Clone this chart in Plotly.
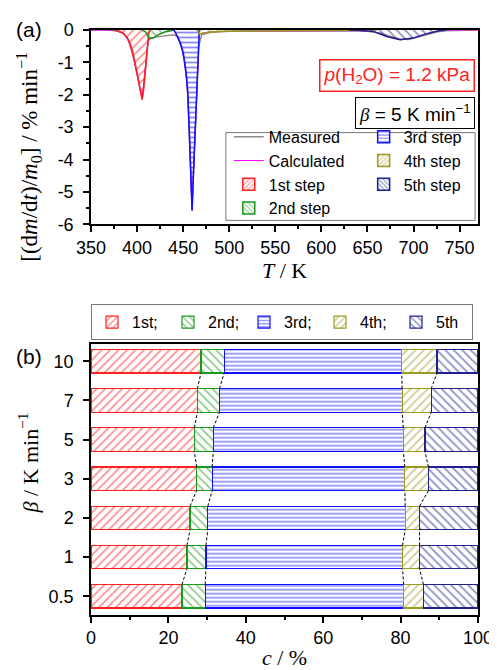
import plotly.graph_objects as go

# ---------------- data: panel (a) ----------------
T_step1 = [375, 380, 385, 389, 392, 394.5, 397, 400, 402, 404, 405.5, 407, 408.5, 410, 411, 412.5, 414]
v_step1 = [0, -0.03, -0.1, -0.23, -0.4, -0.64, -0.95, -1.35, -1.65, -1.95, -2.14, -1.85, -1.35, -0.85, -0.44, -0.12, 0]

T_step2 = [405, 409, 412, 414, 417, 421, 425, 430, 435, 440]
v_step2 = [0, -0.05, -0.2, -0.27, -0.25, -0.18, -0.12, -0.06, -0.02, 0]

T_step3 = [440, 442, 446, 449, 451, 453, 455, 456.5, 457.6, 458.7, 459.7, 461, 462.5, 464, 465.5, 467.5]
v_step3 = [0, -0.1, -0.35, -0.6, -0.9, -1.3, -1.9, -2.9, -3.9, -4.9, -5.57, -4.6, -3.5, -2.5, -1.4, 0]

T_step4 = [465, 468, 472, 480, 500, 550, 600, 640, 660]
v_step4 = [0, -0.12, -0.1, -0.06, -0.04, -0.03, -0.02, -0.01, 0]

T_step5 = [630, 640, 657, 671, 685.5, 699.5, 713.7, 727.8, 735]
v_step5 = [0, -0.01, -0.05, -0.2, -0.3, -0.25, -0.12, -0.02, 0]

T_meas = [350, 360, 370, 378, 385, 390, 395, 400, 403, 405.5, 408, 410, 412, 414, 417, 420, 425, 430,
          435, 440, 444, 448, 451, 454, 456.5, 458, 459.7, 461, 463, 465, 467, 470, 475, 480, 490, 500,
          550, 600, 630, 650, 665, 675, 685, 695, 705, 715, 725, 735, 750, 770]
v_meas = [0, 0, -0.01, -0.03, -0.1, -0.27, -0.6, -1.3, -1.75, -2.14, -1.6, -0.9, -0.35, -0.25, -0.25,
          -0.22, -0.2, -0.18, -0.16, -0.15, -0.2, -0.45, -0.8, -1.5, -2.9, -4.1, -5.55, -4.5, -3.1, -1.7,
          -0.5, -0.15, -0.1, -0.07, -0.05, -0.04, -0.03, -0.02, -0.02, -0.04, -0.1, -0.2, -0.28, -0.29,
          -0.22, -0.14, -0.06, -0.02, -0.01, 0]

T_calc = [350, 375, 385, 390, 395, 400, 403, 405.5, 408, 410, 412, 414, 417, 421, 425, 430, 435, 440,
          444, 448, 451, 454, 456.5, 458, 459.7, 461, 463, 465, 467.5, 470, 480, 500, 550, 600, 640,
          657, 671, 685.5, 699.5, 713.7, 727.8, 735, 770]
v_calc = [0, 0, -0.1, -0.3, -0.7, -1.35, -1.8, -2.14, -1.4, -0.9, -0.32, -0.27, -0.25, -0.18, -0.12,
          -0.06, -0.02, -0.02, -0.2, -0.5, -0.9, -1.6, -2.9, -4.3, -5.57, -4.6, -3.2, -1.8, -0.12, -0.1,
          -0.06, -0.04, -0.03, -0.02, -0.02, -0.05, -0.2, -0.3, -0.25, -0.12, -0.02, 0, 0]

step_names = ["1st step", "2nd step", "3rd step", "4th step", "5th step"]
y_ticks_a = [0, -1, -2, -3, -4, -5, -6]
y_ticktext_a = ["0", "-1", "-2", "-3", "-4", "-5", "-6"]

# ---------------- data: panel (b) ----------------
beta_labels = ["0.5", "1", "2", "3", "5", "7", "10"]
c_1st = [23.5, 24.8, 25.6, 27.3, 26.7, 27.5, 28.4]
c_2nd = [6.0, 4.9, 4.6, 4.0, 4.9, 5.7, 6.0]
c_3rd = [51.3, 50.8, 51.0, 49.8, 49.1, 47.2, 45.9]
c_4th = [5.1, 4.4, 3.7, 6.1, 5.6, 7.5, 9.1]
c_5th = [14.1, 15.1, 15.1, 12.8, 13.7, 12.1, 10.6]
bar_names = ["1st;", "2nd;", "3rd;", "4th;", "5th"]

# ---------------- styles ----------------
colors = ["#ff2020", "#1a9a1a", "#1010ff", "#9a9a20", "#202090"]
shapes_p = ["/", "\\", "-", "/", "\\"]
SANS = "Liberation Sans"
SERIF = "Liberation Serif"

W, H = 497, 670
ML, MR, MT, MB = 83, 18, 20, 57
PW, PH = W - ML - MR, H - MT - MB


def px2x(px):
    return (px - ML) / PW


def px2y(py):
    return 1 - (py - MT) / PH


fig = go.Figure()

# panel (a): measured & calculated (drawn below the steps)
fig.add_trace(go.Scatter(x=T_meas, y=v_meas, mode="lines", name="Measured",
                         line=dict(color="#8c8c8c", width=1.5), legend="legend", legendrank=1,
                         xaxis="x", yaxis="y"))
fig.add_trace(go.Scatter(x=T_calc, y=v_calc, mode="lines", name="Calculated",
                         line=dict(color="#ff00ff", width=1), legend="legend", legendrank=2,
                         xaxis="x", yaxis="y"))

steps_T = [T_step1, T_step2, T_step3, T_step4, T_step5]
steps_v = [v_step1, v_step2, v_step3, v_step4, v_step5]
for i in range(5):
    fig.add_trace(go.Scatter(
        x=steps_T[i], y=steps_v[i], mode="lines", fill="tozeroy",
        line=dict(color=colors[i], width=1.5), fillcolor="rgba(0,0,0,0)",
        fillpattern=dict(shape=shapes_p[i], fgcolor=colors[i], bgcolor="rgba(255,255,255,0)",
                         size=5 if i == 2 else 6, solidity=0.35 if i == 2 else 0.3),
        showlegend=False, xaxis="x", yaxis="y"))

# legend-only entries for steps in panel (a)
for i in range(5):
    fig.add_trace(go.Bar(
        x=[None], y=[None], name=step_names[i], orientation="h",
        marker=dict(color="white", line=dict(color=colors[i], width=1.5),
                    pattern=dict(shape=shapes_p[i], fgcolor=colors[i], bgcolor="white",
                                 size=4, solidity=0.35)),
        legend="legend" if i < 2 else "legend2", legendrank=3 + i,
        xaxis="x", yaxis="y"))

# panel (b): stacked bars
c_all = [c_1st, c_2nd, c_3rd, c_4th, c_5th]
ypos = list(range(len(beta_labels)))
for i in range(5):
    fig.add_trace(go.Bar(
        x=c_all[i], y=ypos, orientation="h", name=bar_names[i], width=0.6,
        marker=dict(color="white", line=dict(color=colors[i], width=1.2),
                    pattern=dict(shape=shapes_p[i], fgcolor=colors[i], bgcolor="white",
                                 size=4 if i == 2 else 6, solidity=0.4 if i == 2 else 0.3)),
        legend="legend3", legendrank=i + 1, xaxis="x2", yaxis="y2"))

# dashed connectors between boundaries
cum = [[0] * len(ypos)]
for i in range(4):
    cum.append([cum[-1][k] + c_all[i][k] for k in range(len(ypos))])
for b in range(1, 5):
    xs, ys = [], []
    for k in range(len(ypos) - 1):
        xs += [cum[b][k], cum[b][k + 1], None]
        ys += [ypos[k] + 0.3, ypos[k + 1] - 0.3, None]
    fig.add_trace(go.Scatter(x=xs, y=ys, mode="lines", showlegend=False,
                             line=dict(color="black", width=1, dash="3px,2px"),
                             xaxis="x2", yaxis="y2"))

axis_common = dict(showline=True, linecolor="black", linewidth=1.5, mirror=True,
                   ticks="outside", ticklen=6, tickwidth=1.5, tickcolor="black",
                   showgrid=False, zeroline=False,
                   tickfont=dict(family=SANS, size=18, color="black"))

leg_common = dict(bgcolor="rgba(0,0,0,0)", borderwidth=0, font=dict(family=SANS, size=16),
                  tracegroupgap=0, itemwidth=30, traceorder="normal",
                  xanchor="left", yanchor="top")

fig.update_layout(
    width=W, height=H, margin=dict(l=ML, r=MR, t=MT, b=MB),
    paper_bgcolor="white", plot_bgcolor="white", barmode="stack", bargap=0.4,
    font=dict(family=SANS, size=16, color="black"),
    xaxis=dict(domain=[0, 1], anchor="y", range=[350, 770], dtick=50, tick0=350,
               minor=dict(ticks="outside", ticklen=3, tickwidth=1.5, dtick=25, tick0=350, tickcolor="black"),
               title=dict(text="<i>T</i> / K", font=dict(family=SERIF, size=22), standoff=4),
               **axis_common),
    yaxis=dict(domain=[px2y(217), 1], anchor="x", range=[-6, 0],
               tickvals=y_ticks_a, ticktext=y_ticktext_a, ticklabelstandoff=6,
               minor=dict(ticks="outside", ticklen=3, tickwidth=1.5, dtick=0.5, tickcolor="black"),
               **axis_common),
    xaxis2=dict(domain=[0, 1], anchor="y2", range=[0, 100], dtick=20,
                minor=dict(ticks="outside", ticklen=3, tickwidth=1.5, dtick=10, tickcolor="black"),
                title=dict(text="<i>c</i> / %", font=dict(family=SERIF, size=22), standoff=2),
                **axis_common),
    yaxis2=dict(domain=[0, px2y(338)], anchor="x2", range=[-0.48, 6.45],
                tickvals=ypos, ticktext=beta_labels, ticklabelstandoff=6,
                **axis_common),
    legend=dict(x=px2x(224), y=px2y(111), **leg_common),
    legend2=dict(x=px2x(362), y=px2y(111), **leg_common),
    legend3=dict(x=0, y=px2y(298), xanchor="left", yanchor="top",
                 orientation="h", bgcolor="white", bordercolor="#777", borderwidth=1,
                 traceorder="normal", font=dict(family=SANS, size=16), entrywidth=31, itemwidth=30),
    shapes=[dict(type="rect", xref="paper", yref="paper",
                 x0=px2x(221), x1=px2x(476), y0=px2y(213), y1=px2y(124),
                 line=dict(color="#777", width=1), fillcolor="rgba(0,0,0,0)", layer="below")],
    annotations=[
        dict(xref="paper", yref="paper", x=px2x(476), y=px2y(66), xanchor="right", yanchor="middle",
             text="<i>p</i>(H<sub>2</sub>O) = 1.2 kPa", showarrow=False,
             font=dict(family=SANS, size=19, color="#ff2020"),
             bordercolor="#ff2020", borderwidth=1.5, borderpad=3, bgcolor="white"),
        dict(xref="paper", yref="paper", x=px2x(476), y=px2y(104), xanchor="right", yanchor="middle",
             text="<span style='font-family:Liberation Serif'><i>β</i></span> = 5 K min<sup>−1</sup>",
             showarrow=False, font=dict(family=SANS, size=19, color="black"),
             bordercolor="black", borderwidth=1, borderpad=3, bgcolor="white"),
        dict(xref="paper", yref="paper", x=px2x(19), y=px2y(148), xanchor="center", yanchor="middle",
             text="[(d<i>m</i>/d<i>t</i>)/<i>m</i><sub>0</sub>] / % min<sup>−1</sup>", textangle=-90,
             showarrow=False, font=dict(family=SERIF, size=23)),
        dict(xref="paper", yref="paper", x=px2x(19), y=px2y(459), xanchor="center", yanchor="middle",
             text="<i>β</i> / K min<sup>−1</sup>", textangle=-90,
             showarrow=False, font=dict(family=SERIF, size=22)),
        dict(xref="paper", yref="paper", x=px2x(20), y=px2y(19), xanchor="center", yanchor="middle",
             text="(a)", showarrow=False, font=dict(family=SANS, size=21)),
        dict(xref="paper", yref="paper", x=px2x(20), y=px2y(351), xanchor="center", yanchor="middle",
             text="(b)", showarrow=False, font=dict(family=SANS, size=21)),
    ],
)

fig.write_html("out.html")
